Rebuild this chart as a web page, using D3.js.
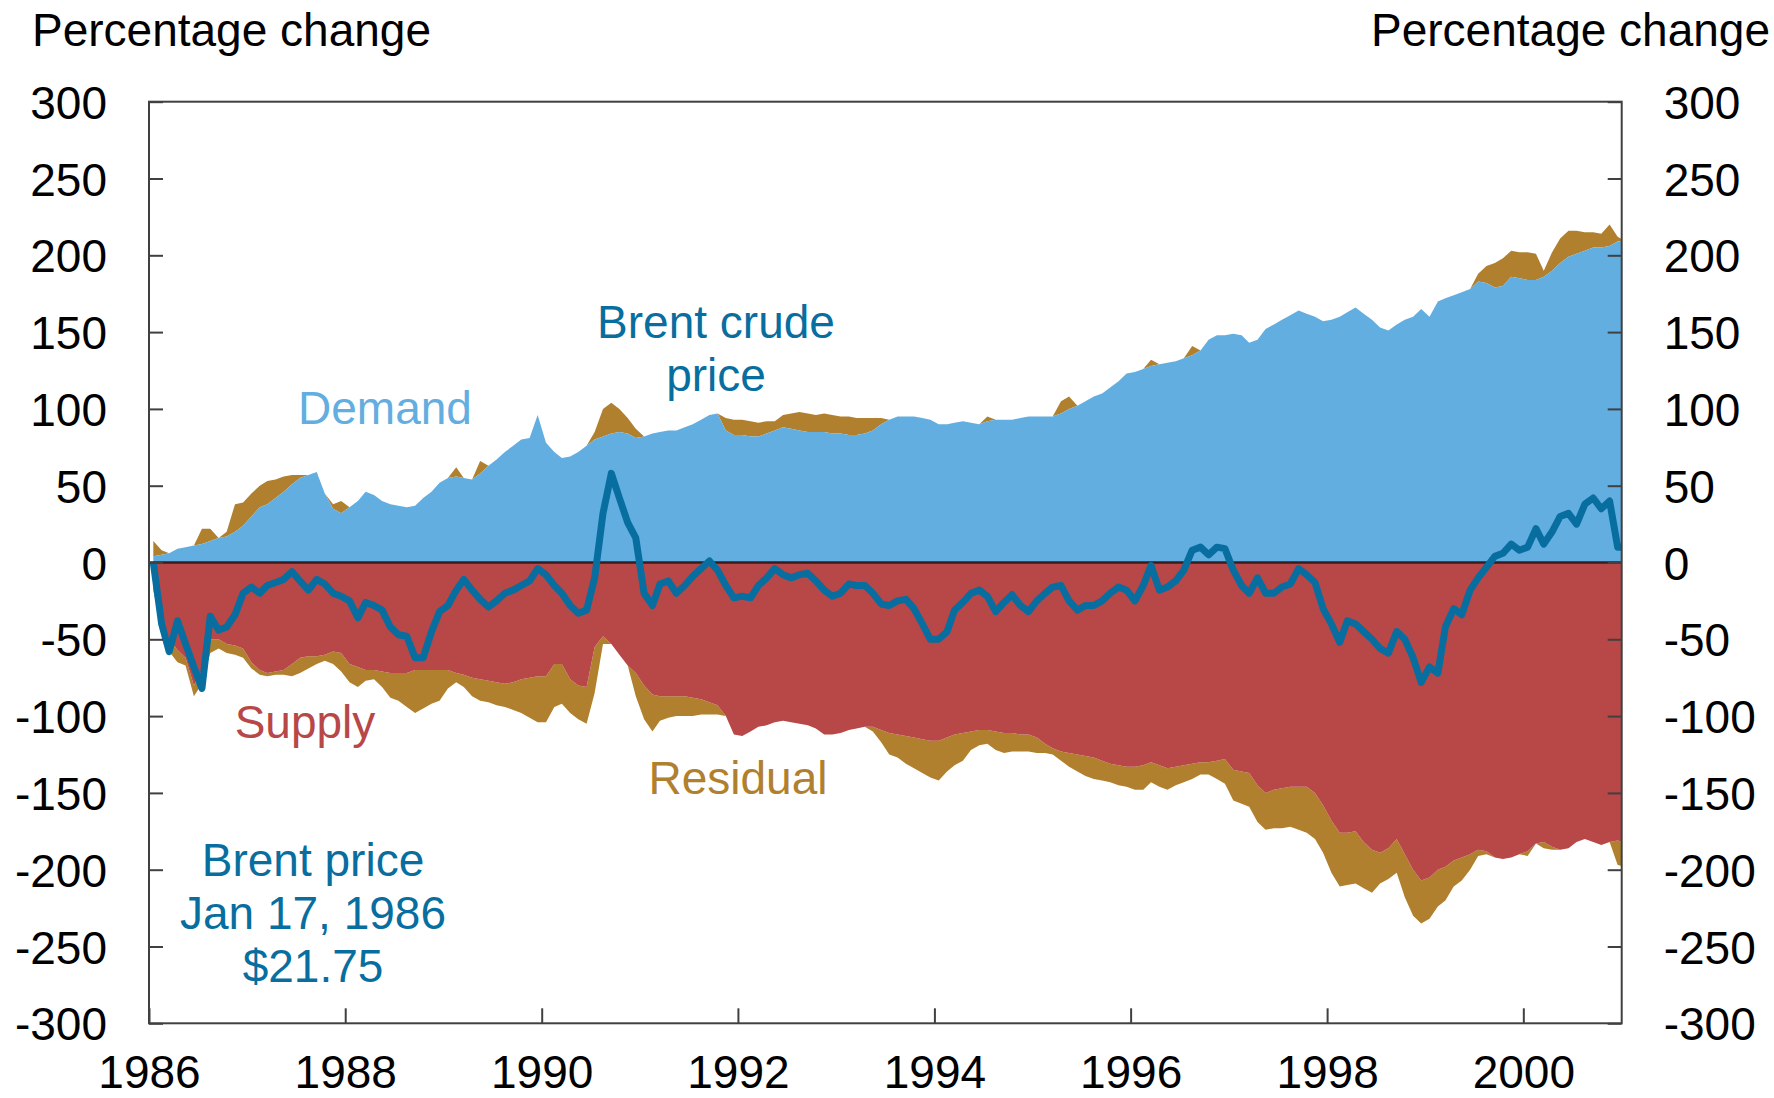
<!DOCTYPE html>
<html>
<head>
<meta charset="utf-8">
<script src="https://cdn.jsdelivr.net/npm/d3@7"></script>
<style>
  body { margin: 0; background: #fff; }
  text { font-family: "Liberation Sans", Arial, sans-serif; }
</style>
</head>
<body>
<svg id="chart"></svg>
<script>
// monthly readings, one row per year, first point = Jan 17 1986 (base)
const demand = [
  4, 5, 6, 9, 10, 11, 12, 14, 16, 17, 20, 24,
  30, 36, 38, 42, 46, 51, 55, 57, 59, 45, 35, 32,
  36, 40, 46, 44, 40, 38, 37, 36, 37, 42, 46, 52,
  55, 56, 55, 54, 58, 63, 67, 72, 76, 80, 81, 96,
  78, 72, 68, 69, 72, 76, 80, 82, 84, 85, 84, 81,
  82, 84, 85, 86, 86, 88, 90, 93, 96, 97, 86, 83,
  83, 82, 82, 84, 86, 88, 87, 86, 85, 85, 85, 84,
  84, 83, 83, 84, 86, 90, 93, 95, 95, 95, 94, 93,
  90, 90, 91, 92, 91, 90, 92, 93, 93, 93, 94, 95,
  95, 95, 95, 97, 100, 102, 105, 108, 110, 114, 118, 123,
  124, 126, 128, 129, 130, 131, 133, 135, 138, 145, 148, 148,
  149, 148, 143, 145, 152, 155, 158, 161, 164, 162, 160, 157,
  158, 160, 163, 166, 162, 158, 153, 151, 155, 158, 160, 165,
  160, 170, 172, 174, 176, 178, 183, 182, 179, 180, 186, 185,
  184, 184, 186, 190, 195, 199, 201, 203, 205, 205, 206, 209,
  209
]
// residual, positive part (sits on top of demand)
const residualUp = [
  10, 3, 0, 0, 0, 0, 10, 8, 0, 3, 18, 15,
  15, 14, 15, 12, 10, 6, 2, 0, 0, 0, 3, 8,
  0, 0, 0, 0, 0, 0, 0, 0, 0, 0, 0, 0,
  0, 6, 0, 0, 8, 0, 0, 0, 0, 0, 0, 0,
  0, 0, 0, 0, 0, 0, 5, 18, 20, 15, 10, 6,
  0, 0, 0, 0, 0, 0, 0, 0, 0, 0, 8, 10,
  10, 10, 9, 8, 6, 8, 10, 12, 12, 11, 12, 12,
  11, 12, 11, 10, 8, 4, 0, 0, 0, 0, 0, 0,
  0, 0, 0, 0, 0, 0, 3, 0, 0, 0, 0, 0,
  0, 0, 0, 8, 8, 0, 0, 0, 0, 0, 0, 0,
  0, 0, 4, 0, 0, 0, 0, 6, 0, 0, 0, 0,
  0, 0, 0, 0, 0, 0, 0, 0, 0, 0, 0, 0,
  0, 0, 0, 0, 0, 0, 0, 0, 0, 0, 0, 0,
  0, 0, 0, 0, 0, 0, 5, 11, 16, 18, 17, 17,
  18, 17, 4, 12, 16, 17, 15, 12, 10, 9, 14, 3,
  0
]
const supply = [
  -15, -38, -50, -57, -62, -80, -70, -50, -50, -53, -54, -56,
  -65, -70, -72, -71, -70, -66, -62, -61, -61, -60, -58, -59,
  -66, -68, -70, -70, -71, -72, -72, -72, -70, -70, -70, -70,
  -70, -72, -73, -75, -76, -77, -78, -79, -78, -76, -75, -74,
  -74, -66, -66, -76, -80, -81, -55, -48, -53, -60, -67, -72,
  -80, -86, -87, -87, -87, -87, -88, -89, -91, -93, -100, -112,
  -113, -110, -107, -106, -104, -103, -104, -105, -106, -108, -112, -112,
  -111, -109, -108, -107, -107, -109, -111, -112, -113, -114, -115, -116,
  -116, -114, -112, -111, -110, -109, -109, -110, -111, -111, -112, -112,
  -114, -118, -121, -123, -124, -125, -126, -127, -129, -131, -132, -133,
  -133, -132, -130, -132, -134, -133, -132, -131, -130, -130, -129, -128,
  -135, -136, -137, -145, -150, -148, -147, -146, -146, -146, -150, -158,
  -168, -176, -176, -175, -182, -187, -189, -186, -180, -190, -200, -207,
  -205, -200, -198, -194, -192, -190, -187, -188, -192, -193, -192, -190,
  -188, -183, -182, -185, -187, -186, -182, -180, -182, -184, -182, -181,
  -183
]
// residual, negative part (hangs below supply)
const residualDown = [
  -3, -6, -8, -8, -5, -7, -9, -9, -6, -6, -6, -6,
  -4, -3, -2, -2, -3, -8, -10, -8, -5, -4, -8, -12,
  -12, -13, -7, -6, -10, -16, -18, -22, -28, -25, -22, -20,
  -12, -6, -8, -12, -14, -14, -15, -15, -18, -22, -26, -30,
  -30, -28, -26, -22, -22, -24, -30, -5, 0, 0, 0, -15,
  -22, -24, -16, -14, -13, -13, -12, -10, -8, -6, 0, 0,
  0, 0, 0, 0, 0, 0, 0, 0, 0, 0, 0, 0,
  0, 0, 0, 0, -3, -8, -14, -15, -18, -20, -22, -24,
  -26, -22, -20, -18, -12, -10, -9, -12, -13, -12, -11, -11,
  -10, -6, -4, -6, -9, -11, -13, -14, -13, -12, -13, -13,
  -15, -16, -13, -14, -14, -12, -11, -10, -8, -8, -12, -16,
  -20, -21, -22, -24, -24, -25, -26, -26, -28, -30, -30, -31,
  -34, -35, -34, -34, -30, -28, -20, -20, -22, -28, -30, -28,
  -27, -24, -22, -17, -15, -10, -4, -2, 0, 0, 0, 0,
  -3, 0, -4, -2, 0, 0, 0, 0, 0, 0, 0, -16,
  -15
]
const brent = [
  0, -40, -58, -38, -53, -68, -82, -35, -44, -42, -34, -20,
  -16, -20, -15, -13, -11, -6, -12, -18, -11, -14, -20, -22,
  -25, -36, -26, -28, -31, -42, -47, -48, -62, -62, -45, -32,
  -28, -18, -11, -18, -24, -29, -25, -20, -18, -15, -12, -4,
  -8, -15, -20, -28, -33, -31, -10, 32, 58, 42, 26, 16,
  -20, -28, -14, -12, -20, -15, -9, -4, 1, -5, -15, -23,
  -22, -23, -15, -10, -4, -8, -10, -8, -7, -12, -18, -22,
  -20, -14, -15, -15, -20, -27, -28, -25, -24, -30, -40, -50,
  -50, -45, -31, -26, -20, -18, -22, -32, -26, -21, -28, -32,
  -25, -20, -16, -15, -25, -31, -28, -28, -25, -20, -16, -18,
  -25, -15, -2, -18, -16, -12, -5, 8, 10, 5, 10, 9,
  -5, -15, -20, -10, -20, -20, -16, -14, -4, -8, -13, -30,
  -40, -52, -38, -40, -45, -50, -56, -59, -45, -50, -62, -78,
  -68, -72, -42, -30, -34, -18, -10, -3, 4, 6, 12, 8,
  10, 22, 12, 20, 30, 32, 25, 38, 42, 35, 40, 10,
  10
]
const xTickYears = [1986, 1988, 1990, 1992, 1994, 1996, 1998, 2000]
const yTickValues = [-300, -250, -200, -150, -100, -50, 0, 50, 100, 150, 200, 250, 300]

const width = 1774
const height = 1098
const margin = { top: 101.7, right: 152.3, bottom: 74.7, left: 149 }
const w = width - margin.left - margin.right
const h = height - margin.top - margin.bottom

const colors = {
  demand: '#62aee0',
  supply: '#b84747',
  residual: '#b0802e',
  brent: '#086ea0'
}
const font = 46

const rows = demand.map((d, i) => ({
  date: new Date(1986, i, 17),
  demand: d,
  up: residualUp[i],
  supply: supply[i],
  down: residualDown[i],
  brent: brent[i]
}))

const svg = d3.select('#chart').attr('width', width).attr('height', height)

const x = d3.scaleTime()
  .domain([new Date(1986, 0, 1), new Date(2001, 0, 1)])
  .range([0, w])
const y = d3.scaleLinear().domain([-300, 300]).range([h, 0])

svg.append('defs').append('clipPath').attr('id', 'plot-clip')
  .append('rect').attr('width', w).attr('height', h)

const g = svg.append('g').attr('transform', `translate(${margin.left},${margin.top})`)
const plot = g.append('g').attr('clip-path', 'url(#plot-clip)')

const area = (lo, hi) => d3.area()
  .x(d => x(d.date))
  .y0(d => y(lo(d)))
  .y1(d => y(hi(d)))

// residual bands first, then demand / supply on top
plot.append('path').datum(rows)
  .attr('fill', colors.residual)
  .attr('d', area(d => d.demand, d => d.demand + d.up))
plot.append('path').datum(rows)
  .attr('fill', colors.residual)
  .attr('d', area(d => d.supply, d => d.supply + d.down))
plot.append('path').datum(rows)
  .attr('fill', colors.demand)
  .attr('d', area(d => 0, d => d.demand))
plot.append('path').datum(rows)
  .attr('fill', colors.supply)
  .attr('d', area(d => 0, d => d.supply))

plot.append('line')
  .attr('x1', 0).attr('x2', w)
  .attr('y1', y(0)).attr('y2', y(0))
  .attr('stroke', '#3a1c1c').attr('stroke-width', 2.5)

plot.append('path').datum(rows)
  .attr('fill', 'none')
  .attr('stroke', colors.brent)
  .attr('stroke-width', 7)
  .attr('stroke-linejoin', 'round')
  .attr('d', d3.line().x(d => x(d.date)).y(d => y(d.brent)))

// axes (ticks point inward), plain hyphen for negatives
const fmt = d => String(d)
const styleAxis = sel => {
  sel.select('.domain').remove()
  sel.selectAll('line').attr('stroke', '#404040').attr('stroke-width', 2)
  sel.selectAll('text').attr('font-size', font).attr('fill', '#000')
    .style('font-family', '"Liberation Sans", Arial, sans-serif')
}
g.append('g')
  .call(d3.axisLeft(y).tickValues(yTickValues).tickSize(-14).tickPadding(42).tickFormat(fmt))
  .call(styleAxis)
  .selectAll('text').attr('dy', '0.36em')
g.append('g')
  .attr('transform', `translate(${w},0)`)
  .call(d3.axisRight(y).tickValues(yTickValues).tickSize(-14).tickPadding(42).tickFormat(fmt))
  .call(styleAxis)
  .selectAll('text').attr('dy', '0.36em')
g.append('g')
  .attr('transform', `translate(0,${h})`)
  .call(d3.axisBottom(x).tickValues(xTickYears.map(yr => new Date(yr, 0, 1))).tickSize(-15).tickPadding(32).tickFormat(d3.timeFormat('%Y')))
  .call(styleAxis)

g.append('rect')
  .attr('width', w).attr('height', h)
  .attr('fill', 'none').attr('stroke', '#404040').attr('stroke-width', 2)

// titles
svg.append('text').attr('x', 32).attr('y', 46)
  .attr('font-size', font).text('Percentage change')
svg.append('text').attr('x', 1770).attr('y', 46)
  .attr('text-anchor', 'end').attr('font-size', font).text('Percentage change')

// labels inside the plot
const labels = [
  { lines: ['Brent crude', 'price'], x: 716, y: 338, color: colors.brent },
  { lines: ['Demand'], x: 385, y: 424, color: colors.demand },
  { lines: ['Supply'], x: 305, y: 738, color: colors.supply },
  { lines: ['Residual'], x: 738, y: 794, color: colors.residual },
  { lines: ['Brent price', 'Jan 17, 1986', '$21.75'], x: 313, y: 876, color: colors.brent }
]
labels.forEach(l => {
  svg.append('text')
    .attr('x', l.x).attr('y', l.y)
    .attr('text-anchor', 'middle')
    .attr('font-size', font)
    .attr('fill', l.color)
    .selectAll('tspan').data(l.lines).join('tspan')
    .attr('x', l.x)
    .attr('dy', (d, i) => i === 0 ? 0 : 53)
    .text(d => d)
})
</script>
</body>
</html>
